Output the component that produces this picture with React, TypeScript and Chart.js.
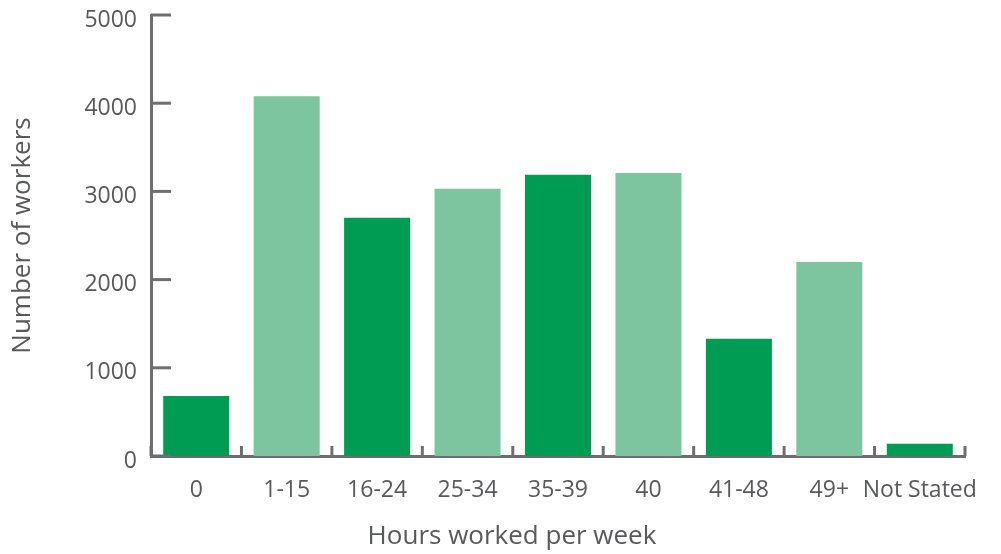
import React, { useEffect, useRef } from "react";
import { Chart, registerables } from "chart.js";

Chart.register(...registerables);

const categories = ["0", "1-15", "16-24", "25-34", "35-39", "40", "41-48", "49+", "Not Stated"];
const workers = [680, 4080, 2700, 3030, 3190, 3210, 1330, 2200, 140];
const yTicks = [0, 1000, 2000, 3000, 4000, 5000];
const xTitle = "Hours worked per week";
const yTitle = "Number of workers";

const DARK = "#009c54";
const LIGHT = "#7cc59f";
const AXIS = "#6d6e71";
const TEXT = "#58595b";
const barColors = categories.map((_, i) => (i % 2 === 0 ? DARK : LIGHT));

const innerTicks = {
  id: "innerTicks",
  afterDatasetsDraw(chart: any) {
    const { ctx, chartArea, scales } = chart;
    const x = scales.x;
    const y = scales.y;
    ctx.save();
    ctx.strokeStyle = AXIS;
    ctx.lineWidth = 3;
    ctx.lineCap = "butt";
    yTicks.forEach((v) => {
      const py = y.getPixelForValue(v);
      ctx.beginPath();
      ctx.moveTo(chartArea.left, py);
      ctx.lineTo(chartArea.left + 20, py);
      ctx.stroke();
    });
    const n = categories.length;
    const bounds: number[] = [chartArea.left];
    for (let i = 1; i < n; i++) {
      bounds.push((x.getPixelForValue(i - 1) + x.getPixelForValue(i)) / 2);
    }
    bounds.push(chartArea.right);
    bounds.forEach((px) => {
      ctx.beginPath();
      ctx.moveTo(px, chartArea.bottom);
      ctx.lineTo(px, chartArea.bottom - 10);
      ctx.stroke();
    });
    ctx.restore();
  },
  afterDraw(chart: any) {
    const { ctx } = chart;
    ctx.save();
    ctx.fillStyle = TEXT;
    ctx.font = "26px 'Open Sans'";
    ctx.textAlign = "center";
    ctx.textBaseline = "middle";
    ctx.fillText(xTitle, 512, 537);
    ctx.restore();
  },
};

export default function App() {
  const ref = useRef<HTMLCanvasElement | null>(null);
  useEffect(() => {
    if (!ref.current) return;
    const chart = new Chart(ref.current, {
      type: "bar",
      data: {
        labels: categories,
        datasets: [
          {
            data: workers,
            backgroundColor: barColors,
            borderWidth: 0,
            barPercentage: 0.73,
            categoryPercentage: 1,
          },
        ],
      },
      options: {
        animation: false,
        responsive: true,
        maintainAspectRatio: false,
        layout: { padding: { top: 15, right: 36, left: 0, bottom: 0 } },
        plugins: { legend: { display: false }, tooltip: { enabled: false } },
        scales: {
          x: {
            grid: { display: false, drawTicks: false },
            border: { display: true, color: AXIS, width: 3 },
            ticks: {
              color: TEXT,
              font: { family: "'Open Sans'", size: 23 },
              padding: 21,
              maxRotation: 0,
              autoSkip: false,
            },
            afterFit: (s: any) => {
              s.height = 98;
              s.paddingLeft = 0;
            },
          },
          y: {
            min: 0,
            max: 5000,
            grid: { display: false, drawTicks: false },
            border: { display: true, color: AXIS, width: 3 },
            afterBuildTicks: (s: any) => {
              s.ticks = yTicks.map((v) => ({ value: v }));
            },
            ticks: {
              color: TEXT,
              font: { family: "'Open Sans'", size: 23 },
              padding: 14,
              labelOffset: 5,
              callback: (v: any) => String(v),
            },
            title: {
              display: true,
              text: yTitle,
              color: TEXT,
              font: { family: "'Open Sans'", size: 26 },
              padding: { top: 7, bottom: 0 },
            },
            afterFit: (s: any) => {
              s.width = 151;
              s.paddingTop = 0;
              s.paddingBottom = 0;
            },
          },
        },
      },
      plugins: [innerTicks],
    });
    return () => chart.destroy();
  }, []);
  return (
    <div style={{ position: "fixed", left: 0, top: 0, width: 1001, height: 554, background: "#fff" }}>
      <canvas ref={ref} />
    </div>
  );
}
